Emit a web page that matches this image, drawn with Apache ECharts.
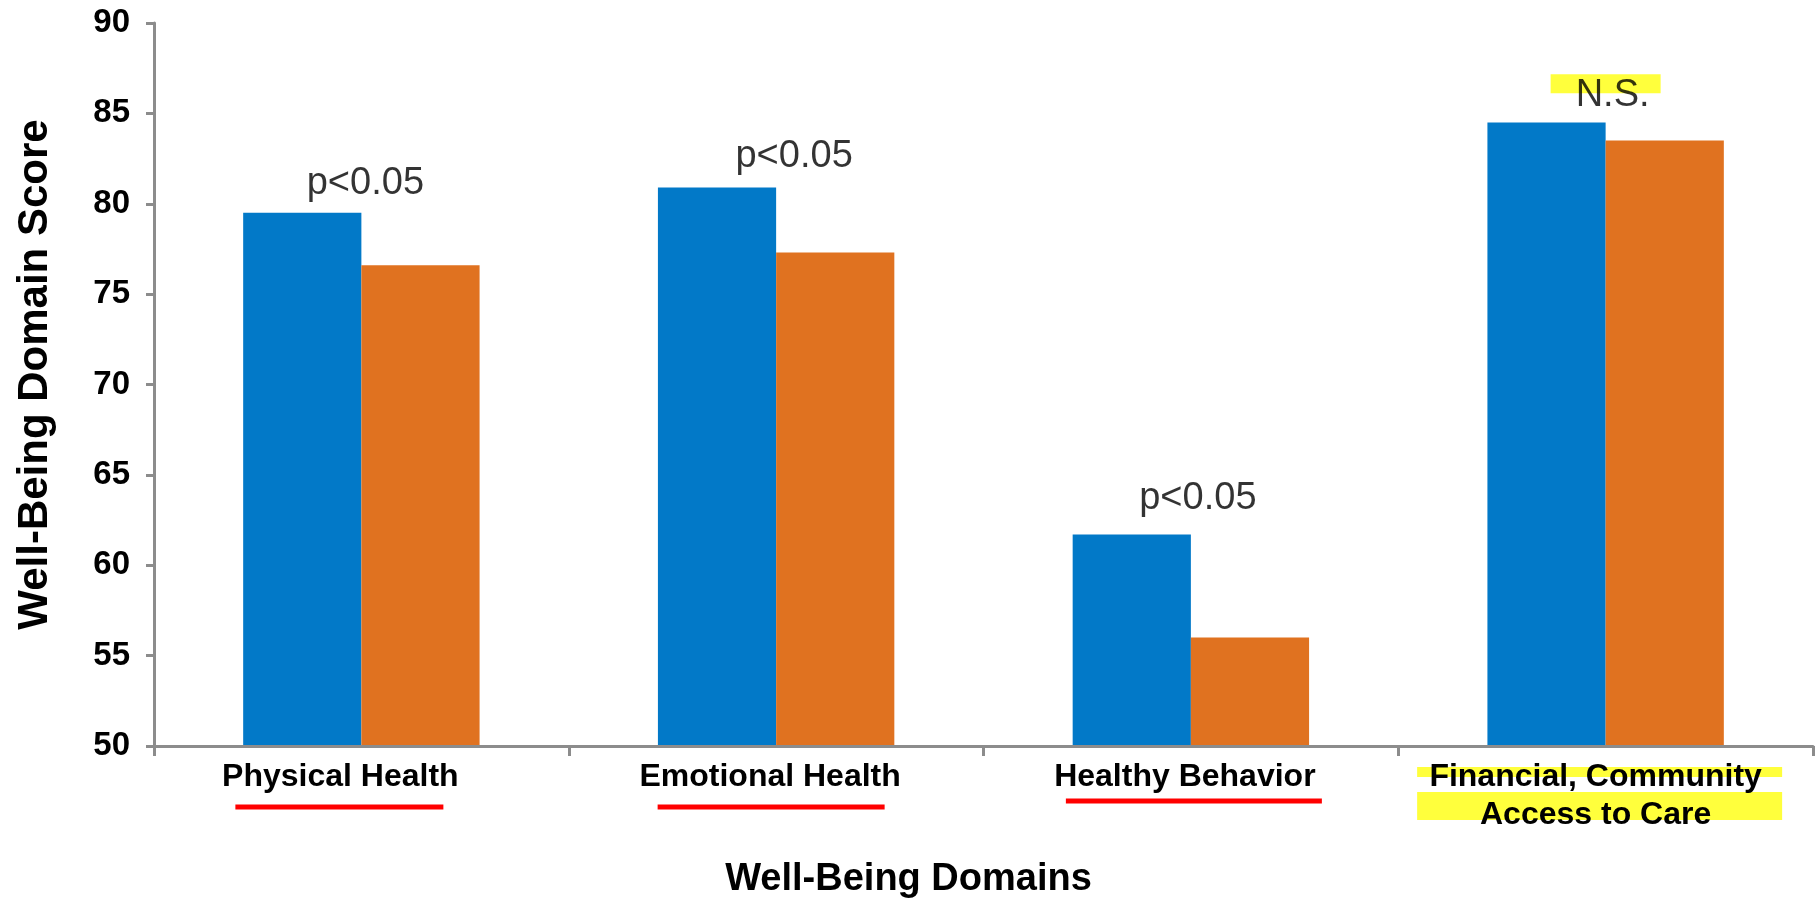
<!DOCTYPE html>
<html>
<head>
<meta charset="utf-8">
<script src="https://cdn.jsdelivr.net/npm/echarts@6/dist/echarts.min.js"></script>
<style>
  html, body { margin: 0; padding: 0; background: #ffffff; }
  #chart { width: 1820px; height: 900px; }
</style>
</head>
<body>
<div id="chart"></div>
<script>
// Well-being domain scores for two groups
const categories = ['Physical Health', 'Emotional Health', 'Healthy Behavior', 'Financial, Community\nAccess to Care'];
const groupA = [79.5, 80.9, 61.7, 84.5];
const groupB = [76.6, 77.3, 56.0, 83.5];

// Significance notes above each pair and the score level they sit at
const sigText = ['p<0.05', 'p<0.05', 'p<0.05', 'N.S.'];
const sigLevel = [81.1, 82.6, 63.7, 86.0];

// Value axis range
const yMin = 50;
const yMax = 90;
const yStep = 5;

const FONT = '"Liberation Sans", Arial, Helvetica, sans-serif';
const AXIS_GREY = '#8c8c8c';
const BLUE = '#0279c8';
const ORANGE = '#e07220';

// Horizontal nudge (px) of each domain label from its category centre
const labelNudge = [-21, -6, -6, -10];
// Horizontal nudge (px) of each significance note
const noteNudge = [4, 18, 7, 7];

// Red underlines under the significant domain labels: [category, dx, width, dy below axis]
const underlineStyle = [
  [0, -22, 208, 61],
  [1, -5, 227, 61],
  [2, 3, 256, 55]
];
// Yellow marker bands behind the last domain label: [category, dx, width, top, height] (top measured below axis)
const bandStyle = [
  [3, -6, 365, 21, 10],
  [3, -6, 365, 46, 28]
];

const chart = echarts.init(document.getElementById('chart'), null, { renderer: 'canvas' });

const categoryData = categories.map((name, i) => ({
  value: name,
  textStyle: {
    padding: labelNudge[i] < 0 ? [0, -2 * labelNudge[i], 0, 0] : [0, 0, 0, 2 * labelNudge[i]]
  }
}));

const noteData = sigLevel.map((v, i) => ({
  value: v,
  label: { offset: [noteNudge[i], 0] }
}));

const option = {
  animation: false,
  backgroundColor: '#ffffff',
  grid: { left: 154, right: 7, top: 23, bottom: 154, containLabel: false, outerBoundsMode: 'none' },
  xAxis: {
    type: 'category',
    data: categoryData,
    z: 5,
    axisLine: { show: true, lineStyle: { color: AXIS_GREY, width: 3 } },
    axisTick: { show: true, length: 10, lineStyle: { color: AXIS_GREY, width: 3 } },
    axisLabel: {
      color: '#000000',
      fontFamily: FONT,
      fontWeight: 'bold',
      fontSize: 32,
      lineHeight: 38,
      margin: 12,
      interval: 0
    },
    name: 'Well-Being Domains',
    nameLocation: 'middle',
    nameGap: 115,
    nameTextStyle: {
      color: '#000000',
      fontFamily: FONT,
      fontWeight: 'bold',
      fontSize: 38,
      lineHeight: 38,
      padding: [0, 150, 0, 0]
    },
    splitLine: { show: false }
  },
  yAxis: {
    type: 'value',
    min: yMin,
    max: yMax,
    interval: yStep,
    axisLine: { show: true, lineStyle: { color: AXIS_GREY, width: 3 } },
    axisTick: { show: true, inside: false, length: 8, lineStyle: { color: AXIS_GREY, width: 3 } },
    axisLabel: {
      color: '#000000',
      fontFamily: FONT,
      fontWeight: 'bold',
      fontSize: 33,
      margin: 24
    },
    splitLine: { show: false },
    name: 'Well-Being Domain Score',
    nameLocation: 'middle',
    nameRotate: 90,
    nameGap: 98,
    nameTextStyle: {
      color: '#000000',
      fontFamily: FONT,
      fontWeight: 'bold',
      fontSize: 42,
      padding: [0, 0, 0, 20]
    }
  },
  series: [
    {
      name: 'Group A',
      type: 'bar',
      data: groupA,
      barGap: '0%',
      barCategoryGap: '43%',
      itemStyle: { color: BLUE },
      z: 2
    },
    {
      name: 'Group B',
      type: 'bar',
      data: groupB,
      barGap: '0%',
      barCategoryGap: '43%',
      itemStyle: { color: ORANGE },
      z: 2
    },
    {
      name: 'Significance',
      type: 'scatter',
      data: noteData,
      symbolSize: 0,
      silent: true,
      z: 4,
      label: {
        show: true,
        position: 'inside',
        color: '#000000',
        fontFamily: FONT,
        fontSize: 38,
        formatter: (p) => sigText[p.dataIndex]
      }
    }
  ]
};

chart.setOption(option);

// Decorations placed from the chart's own coordinate conversion
function decorations() {
  const elements = [];
  const axisY = chart.convertToPixel({ gridIndex: 0 }, [0, yMin])[1];
  underlineStyle.forEach(([ci, dx, w, dy]) => {
    const cx = chart.convertToPixel({ gridIndex: 0 }, [ci, yMin])[0];
    elements.push({
      type: 'rect',
      z: 1,
      silent: true,
      shape: { x: cx + dx - w / 2, y: axisY + dy - 2.5, width: w, height: 5 },
      style: { fill: '#ff0000' }
    });
  });
  bandStyle.forEach(([ci, dx, w, top, h]) => {
    const cx = chart.convertToPixel({ gridIndex: 0 }, [ci, yMin])[0];
    elements.push({
      type: 'rect',
      z: 1,
      silent: true,
      shape: { x: cx + dx - w / 2, y: axisY + top, width: w, height: h },
      style: { fill: '#ffff3c' }
    });
  });
  // Marker band behind the N.S. note
  const nsIdx = sigText.indexOf('N.S.');
  const ns = chart.convertToPixel({ gridIndex: 0 }, [nsIdx, sigLevel[nsIdx]]);
  elements.push({
    type: 'rect',
    z: 1,
    silent: true,
    shape: { x: ns[0] - 55, y: ns[1] - 21, width: 110, height: 19 },
    style: { fill: '#ffff3c' }
  });
  return elements;
}

chart.setOption({ graphic: { elements: decorations() } });
</script>
</body>
</html>
